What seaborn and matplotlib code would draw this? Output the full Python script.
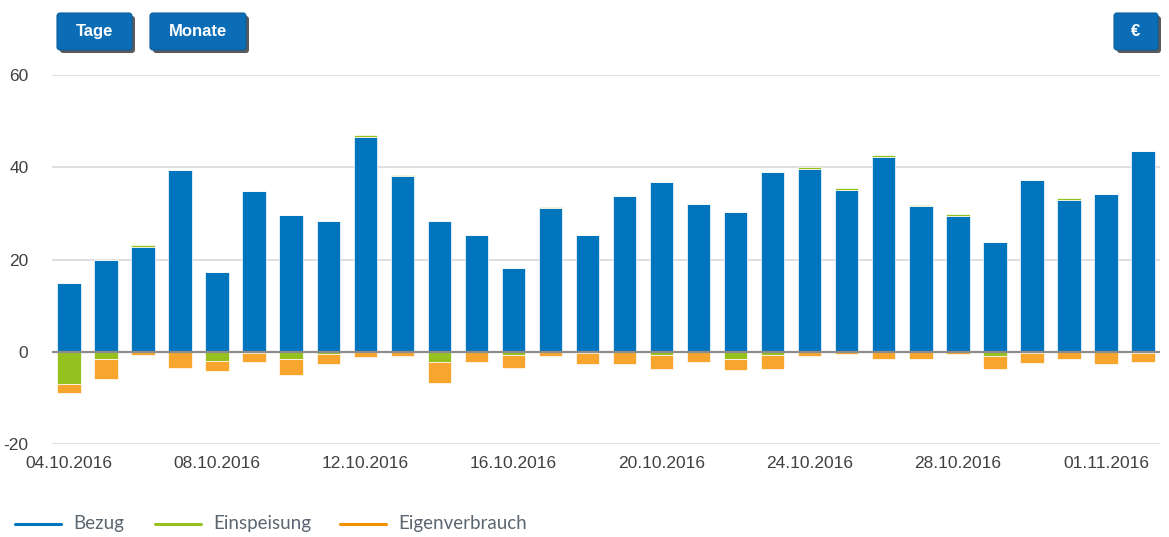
import matplotlib
matplotlib.use("Agg")
import matplotlib.pyplot as plt
from matplotlib.patches import FancyBboxPatch
from matplotlib.lines import Line2D
from matplotlib.transforms import IdentityTransform
import numpy as np
import pandas as pd
import seaborn as sns

# daily values (kWh), 04.10.2016 - 02.11.2016
days = [d.strftime("%d.%m.%Y") for d in pd.date_range("2016-10-04", "2016-11-02")]
bezug = [14.8, 19.9, 22.8, 39.5, 17.2, 34.8, 29.6, 28.3, 46.6, 38.2,
         28.3, 25.3, 18.1, 31.1, 25.3, 33.7, 36.9, 32.1, 30.2, 38.9,
         39.6, 35.1, 42.2, 31.5, 29.4, 23.8, 37.2, 33.0, 34.1, 43.6]
einspeisung_plus = [0, 0, 0.3, 0, 0, 0, 0, 0, 0.3, 0.2,
                    0, 0, 0, 0.3, 0, 0, 0, 0, 0, 0,
                    0.4, 0.3, 0.4, 0.4, 0.4, 0, 0, 0.3, 0, 0]
einspeisung = [-6.9, -1.65, 0, 0, -2.0, -0.2, -1.5, -0.5, 0, 0,
               -2.15, 0, -0.8, 0, -0.2, 0, -0.65, 0, -1.6, -0.8,
               0, 0, 0, 0, 0, -0.85, -0.2, 0, 0, -0.2]
eigenverbrauch = [-2.1, -4.2, -0.65, -3.5, -2.2, -1.95, -3.45, -2.15, -1.1, -0.85,
                  -4.65, -2.15, -2.8, -0.85, -2.5, -2.65, -3.15, -2.15, -2.35, -2.95,
                  -0.85, -0.5, -1.5, -1.5, -0.5, -2.95, -2.3, -1.5, -2.7, -1.95]
tick_every = 4
y_ticks = [-20, 0, 20, 40, 60]

blue = "#0174be"
green = "#95c11f"
orange = "#f7a52d"

sns.set_theme(style="white")
plt.rcParams["font.family"] = ["Liberation Sans", "DejaVu Sans"]
plt.rcParams["axes.unicode_minus"] = False

W, H = 1169, 537
fig = plt.figure(figsize=(W / 100, H / 100), dpi=100)
ax = fig.add_axes([52 / W, 1 - 444 / H, (1160 - 52) / W, (444 - 75) / H])

bar_kw = dict(width=0.635, saturation=1, errorbar=None, edgecolor="white",
              linewidth=0.5, ax=ax)
sns.barplot(x=days, y=bezug, color=blue, **bar_kw)
sns.barplot(x=days, y=einspeisung_plus, bottom=bezug, color=green, **bar_kw)
sns.barplot(x=days, y=einspeisung, color=green, **bar_kw)
sns.barplot(x=days, y=eigenverbrauch, bottom=einspeisung, color=orange, **bar_kw)

ax.set_xlim(-0.46, 29.46)
ax.set_ylim(-20, 60)
ax.set_yticks(y_ticks)
for yv in y_ticks:
    if yv != 0:
        ax.axhline(yv, color="#d9d9d9", lw=1.2, zorder=0)
ax.axhline(0, color="#8c8c8c", lw=1.6, zorder=5)

pos = list(range(0, len(days), tick_every))
ax.set_xticks(pos)
ax.set_xticklabels([days[i] for i in pos])
ax.tick_params(axis="x", length=0, pad=9, labelsize=12.5, labelcolor="#404040")
ax.tick_params(axis="y", length=0, pad=17, labelsize=12.5, labelcolor="#404040")
ax.set_xlabel("")
ax.set_ylabel("")
for s in ax.spines.values():
    s.set_visible(False)

# buttons (image pixel coords)
def button(x0, y0, w, h, label):
    tr = IdentityTransform()
    shadow = FancyBboxPatch((x0 + 3, H - y0 - h - 3), w, h,
                            boxstyle="round,pad=0,rounding_size=3",
                            fc="#5a5a5a", ec="none", transform=tr)
    body = FancyBboxPatch((x0, H - y0 - h), w, h,
                          boxstyle="round,pad=0,rounding_size=3",
                          fc="#0a6db5", ec="#0a5e9e", lw=0.8, transform=tr)
    fig.add_artist(shadow)
    fig.add_artist(body)
    fig.text((x0 + w / 2) / W, 1 - (y0 + h / 2) / H, label, color="white",
             fontsize=12, fontweight="bold", ha="center", va="center")

button(57, 13, 75, 37, "Tage")
button(150, 13, 96, 37, "Monate")
button(1114, 13, 44, 37, "€")

# legend
legend_items = [("Bezug", blue, 15), ("Einspeisung", green, 155),
                ("Eigenverbrauch", "#f39200", 340)]
ly = 1 - 524 / H
for name, col, x0 in legend_items:
    fig.add_artist(Line2D([x0 / W, (x0 + 46) / W], [ly, ly], color=col,
                          lw=2.2, transform=fig.transFigure))
    fig.text((x0 + 58) / W, ly, name, color="#5b6670", fontsize=13.5,
             family=["Lato", "DejaVu Sans"], ha="left", va="center")

fig.savefig("out.png", dpi=100)
